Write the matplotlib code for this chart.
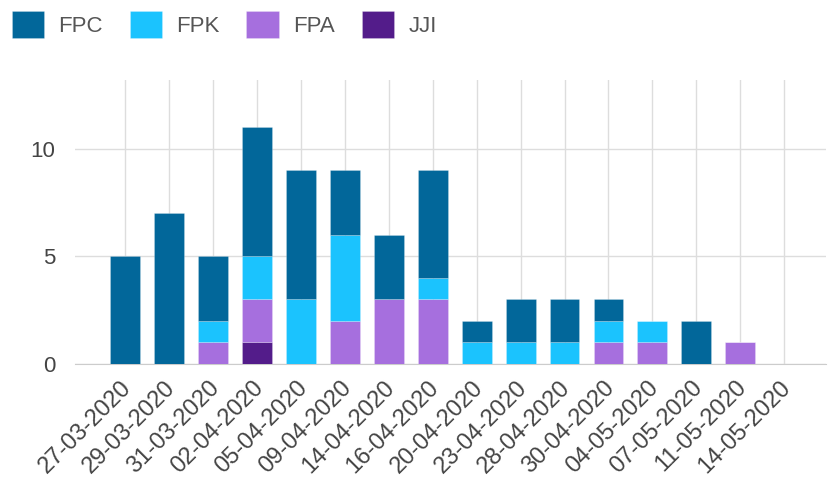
import numpy as np
import matplotlib
matplotlib.use('Agg')
import matplotlib.pyplot as plt
import matplotlib.transforms as mtransforms

dates = ['27-03-2020', '29-03-2020', '31-03-2020', '02-04-2020', '05-04-2020',
         '09-04-2020', '14-04-2020', '16-04-2020', '20-04-2020', '23-04-2020',
         '28-04-2020', '30-04-2020', '04-05-2020', '07-05-2020', '11-05-2020',
         '14-05-2020']

# stacked bottom to top: JJI, FPA, FPK, FPC
jji = [0, 0, 0, 1, 0, 0, 0, 0, 0, 0, 0, 0, 0, 0, 0, 0]
fpa = [0, 0, 1, 2, 0, 2, 3, 3, 0, 0, 0, 1, 1, 0, 1, 0]
fpk = [0, 0, 1, 2, 3, 4, 0, 1, 1, 1, 1, 1, 1, 0, 0, 0]
fpc = [5, 7, 3, 6, 6, 3, 3, 5, 1, 2, 2, 1, 0, 2, 0, 0]

colors = {'FPC': '#02679a', 'FPK': '#1bc3fe', 'FPA': '#a66fde', 'JJI': '#531c8a'}

plt.rcParams['font.family'] = ['Liberation Sans', 'DejaVu Sans']

fig = plt.figure(figsize=(8.29, 4.84), dpi=100)
ax = fig.add_axes([75 / 829, 1 - 364 / 484, (826 - 75) / 829, (364 - 80) / 484])

x = np.arange(len(dates))
w = 0.68
bottom = np.zeros(len(dates))
handles = {}
for name, vals in [('JJI', jji), ('FPA', fpa), ('FPK', fpk), ('FPC', fpc)]:
    vals = np.array(vals, dtype=float)
    handles[name] = ax.bar(x, vals, w, bottom=bottom, color=colors[name],
                           edgecolor=(1, 1, 1, 0.25), linewidth=0.6, zorder=3)
    bottom += vals

ax.set_xlim(-1.14, 15.95)
ax.set_ylim(0, 13.2)
ax.set_yticks([0, 5, 10])
ax.set_xticks(x)
ax.set_xticklabels(dates, rotation=45, ha='right', rotation_mode='anchor')
ax.tick_params(length=0, labelsize=16, colors='#444444')
ax.tick_params(axis='y', pad=14)
ax.tick_params(axis='x', pad=9, labelsize=17)
shift = mtransforms.ScaledTranslation(-5 / 100, 0, fig.dpi_scale_trans)
for lbl in ax.get_xticklabels():
    lbl.set_transform(lbl.get_transform() + shift)
ax.grid(True, color='#dddddd', linewidth=1, zorder=0)
for s in ['top', 'right', 'left']:
    ax.spines[s].set_visible(False)
ax.spines['bottom'].set_color('#cccccc')

order = ['FPC', 'FPK', 'FPA', 'JJI']
fig.legend([handles[n] for n in order], order, loc='upper left',
           bbox_to_anchor=(0.001, 1.0), ncol=4, frameon=False, fontsize=16,
           handlelength=1.45, handleheight=1.45, handletextpad=0.65,
           columnspacing=1.2, borderpad=0.3, borderaxespad=0.2,
           labelcolor='#555555')

fig.savefig('out.png', dpi=100)
